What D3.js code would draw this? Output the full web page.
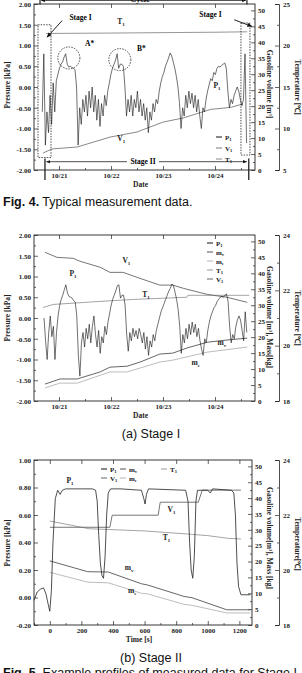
<!DOCTYPE html>
<html>
<head>
<meta charset="utf-8">
<script src="https://cdn.jsdelivr.net/npm/d3@7"></script>
<style>
body { margin: 0; background: #fff; }
svg { display: block; }
.tick text { font-family: "Liberation Serif", "Times New Roman", serif; font-weight: bold; font-size: 7px; fill: #222; }
</style>
</head>
<body>
<svg id="fig" width="302" height="673"></svg>
<script>
// ---- Fig. 4 data (x in days, 1 = 10/21) ----
var dateLabels = ["10/21", "10/22", "10/23", "10/24"];
var fig4PStart = 0.678, fig4PStep = 0.03;
var fig4P = [-0.6, 0.80, -1.40, -0.60, -1.10, -0.20, -0.90, 0.10, -0.60, 0.15,
  0.30, 0.45, 0.55, 0.60, 0.72, 0.80, 0.55, 0.48, 0.50, 0.47,
  0.45, 0.42, 0.00, -1.40, -0.50, -0.90, -0.30, -0.60, -0.20, -0.70,
  -0.10, -0.50, 0.00, -0.60, -0.20, -0.80, -0.30, -0.95, -0.40, -0.70,
  -0.20, -0.45, -0.10, 0.10, 0.30, 0.45, 0.55, 0.65, 0.80, 0.45,
  0.55, 0.55, 0.50, 0.00, -0.70, -0.30, -0.60, -0.20, -0.70, -0.30,
  -0.50, -0.10, -0.60, -0.30, -0.70, -0.40, -0.80, -0.50, -1.10, -0.60,
  -0.80, -0.40, -0.60, -0.30, -0.40, -0.10, 0.10, 0.25, 0.35, 0.50,
  0.60, 0.70, 0.82, 0.75, 0.60, 0.45, 0.25, 0.00, -0.40, -1.00,
  -0.50, -0.70, -0.20, -0.50, -0.10, -0.40, -0.15, -0.50, -0.20, -0.60,
  -0.30, -0.70, -1.00, -0.50, -0.60, -0.30, -0.10, 0.05, 0.20, 0.15,
  0.35, 0.30, 0.45, 0.50, 0.48, 0.52, 0.55, 0.58, 0.45, -0.10,
  -0.50, -0.30, -0.40, -0.20, -0.10, 0.00, -0.10, -0.30, -0.45, -0.30,
  0.80, -1.35];
var fig4V = [[0.69, 5.3], [0.87, 6.6], [1.35, 7.2], [1.98, 10.3], [2.5, 11.9], [3.0, 15.0],
  [3.39, 16.3], [3.92, 19.0], [4.3, 19.6], [4.54, 20.7]];
var fig4T = [[0.75, 21.45], [2.0, 21.5], [3.0, 21.55], [4.0, 21.6], [4.62, 21.65]];

// ---- Fig. 5(a) Stage I data ----
var stage1PStart = 0.712, stage1PStep = 0.03;
var stage1P = [0.00, -0.55, -1.00, -0.35, 0.05, -0.45, -0.20, -1.00, -0.35, 0.05,
  0.30, 0.45, 0.55, 0.68, 0.80, 0.60, 0.52, 0.50, 0.48, 0.42,
  0.38, 0.05, -0.90, -1.40, -0.60, -0.35, -0.70, -0.25, -0.50, -0.15,
  -0.60, -0.20, 0.05, -0.40, -0.70, -0.30, -0.85, -0.45, -0.60, -0.20,
  -0.40, -0.10, 0.10, 0.30, 0.45, 0.55, 0.65, 0.78, 0.80, 0.48,
  0.55, 0.55, 0.30, -0.40, -0.80, -0.35, -0.55, -0.25, -0.45, -0.30,
  -0.50, -0.25, -0.40, -0.60, -0.35, -0.75, -0.45, -0.90, -0.55, -0.70,
  -0.40, -0.55, -0.30, -0.15, 0.00, 0.15, 0.25, 0.35, 0.45, 0.55,
  0.65, 0.72, 0.82, 0.78, 0.62, 0.45, 0.20, -0.20, -0.85, -0.40,
  -0.60, -0.25, -0.50, -0.15, -0.40, -0.10, -0.35, -0.15, -0.45, -0.25,
  -0.55, -0.75, -0.90, -0.50, -0.60, -0.30, -0.10, 0.05, 0.15, 0.25,
  0.30, 0.40, 0.45, 0.50, 0.52, 0.50, 0.55, 0.58, 0.40, -0.20,
  -0.60, -0.40, -0.50, -0.20, -0.05, 0.05, -0.05, -0.30, -0.55, 0.15, -0.35];
var stage1V = [[0.73, 46.6], [0.96, 45.0], [1.27, 44.7], [1.40, 43.8], [1.79, 41.9], [1.98, 40.3],
  [2.23, 40.3], [2.56, 38.4], [2.94, 36.3], [3.19, 36.3], [3.39, 35.3], [3.85, 33.4],
  [4.23, 32.5], [4.62, 30.9]];
var stage1T = [[0.69, 21.38], [0.89, 21.49], [1.79, 21.60], [2.42, 21.67], [3.46, 21.75],
  [3.48, 21.82], [4.66, 21.82]];
var stage1Mv = [[0.73, 5.3], [1.02, 6.9], [1.35, 6.9], [1.79, 9.1], [1.98, 10.6], [2.31, 10.9],
  [2.56, 12.2], [2.94, 14.7], [3.19, 15.0], [3.46, 16.6], [3.85, 18.4], [4.23, 19.1], [4.62, 19.7]];
var stage1Me = [[0.73, 4.1], [1.02, 5.6], [1.35, 5.6], [1.98, 9.1], [2.31, 9.1], [2.94, 12.2],
  [3.19, 12.8], [3.85, 15.3], [4.62, 16.9]];

// ---- Fig. 5(b) Stage II data (x in seconds) ----
var stage2P = [[-100, -0.02], [-80, 0.04], [-60, 0.06], [-40, 0.07], [-25, 0.03], [-10, -0.05],
  [0, -0.10], [10, 0.05], [20, 0.40], [35, 0.72], [50, 0.78], [65, 0.75], [80, 0.78],
  [100, 0.79], [200, 0.79], [270, 0.79], [290, 0.78], [300, 0.70], [310, 0.45], [320, 0.25],
  [330, 0.16], [340, 0.14], [350, 0.30], [360, 0.60], [370, 0.76], [385, 0.79], [450, 0.79],
  [580, 0.78], [595, 0.72], [603, 0.68], [612, 0.75], [625, 0.79], [860, 0.78], [875, 0.70],
  [885, 0.40], [895, 0.20], [905, 0.14], [915, 0.30], [925, 0.70], [935, 0.78], [1000, 0.78],
  [1016, 0.76], [1030, 0.79], [1150, 0.78], [1165, 0.76], [1175, 0.60], [1185, 0.25],
  [1195, 0.08], [1210, 0.02], [1270, 0.02]];
var stage2V = [[0, 30.8], [380, 30.8], [395, 34.6], [686, 34.6], [699, 38.7], [940, 38.7],
  [965, 42.5], [1210, 42.5]];
var stage2T = [[0, 21.78], [250, 21.50], [600, 21.42], [870, 21.31], [1000, 21.25],
  [1130, 21.15], [1210, 21.13]];
var stage2Mv = [[0, 20.2], [240, 16.8], [370, 16.7], [580, 13.0], [620, 12.6], [850, 9.0],
  [900, 8.6], [1120, 4.8], [1270, 4.8]];
var stage2Me = [[0, 16.6], [240, 13.5], [370, 13.3], [580, 10.0], [620, 9.8], [850, 6.5],
  [900, 6.2], [1120, 3.8], [1270, 3.8]];

var serif = '"Liberation Serif","Times New Roman",serif';
var sans = '"Liberation Sans",Arial,sans-serif';
var cP = "#111", cV = "#666", cT = "#9a9a9a", cMv = "#555", cMe = "#b4b4b4";

var svg = d3.select("#fig");
svg.append("defs").append("marker")
    .attr("id", "arr").attr("viewBox", "0 0 10 10")
    .attr("refX", 9).attr("refY", 5)
    .attr("markerWidth", 5).attr("markerHeight", 5)
    .attr("orient", "auto-start-reverse")
    .append("path").attr("d", "M0,1L10,5L0,9Z").attr("fill", "#111");

function fixed2(d) { return d.toFixed(2); }

// label with subscript: "P" + "1"
function subLabel(g, x, y, base, s, size, anchor) {
    var t = g.append("text").attr("x", x).attr("y", y)
        .attr("font-family", serif).attr("font-weight", "bold")
        .attr("font-size", size).attr("fill", "#222")
        .attr("text-anchor", anchor || "start")
        .text(base);
    t.append("tspan").attr("font-size", size * 0.65).attr("dy", size * 0.25).text(s);
    return t;
}

function panel(o) {
    var g = svg.append("g");
    var x = d3.scaleLinear().domain(o.xDomain).range([o.left, o.right]);
    var yP = d3.scaleLinear().domain(o.pDomain).range([o.bottom, o.top]);
    var yV = d3.scaleLinear().domain([0, 52]).range([o.bottom, o.top]);
    var yT = d3.scaleLinear().domain(o.tDomain).range([o.bottom, o.top]);

    // left pressure axis
    g.append("g").attr("transform", "translate(" + o.left + ",0)")
        .call(d3.axisLeft(yP).tickValues(o.pTicks).tickFormat(fixed2).tickSize(-4).tickPadding(3))
        .call(function(a) { a.select(".domain").remove(); });
    g.append("g").attr("transform", "translate(" + o.left + ",0)")
        .call(d3.axisLeft(yP).tickValues(o.pMinor).tickFormat("").tickSize(-2))
        .call(function(a) { a.select(".domain").remove(); });

    // bottom + top axis
    g.append("g").attr("transform", "translate(0," + o.bottom + ")")
        .call(d3.axisBottom(x).tickValues(o.xTicks).tickFormat(o.xFormat).tickSize(-4).tickPadding(3))
        .call(function(a) { a.select(".domain").remove(); });
    g.append("g").attr("transform", "translate(0," + o.bottom + ")")
        .call(d3.axisBottom(x).tickValues(o.xMinor).tickFormat("").tickSize(-2))
        .call(function(a) { a.select(".domain").remove(); });
    g.append("g").attr("transform", "translate(0," + o.top + ")")
        .call(d3.axisTop(x).tickValues(o.xTicks).tickFormat("").tickSize(-4))
        .call(function(a) { a.select(".domain").remove(); });

    // right volume axis
    g.append("g").attr("transform", "translate(" + o.right + ",0)")
        .call(d3.axisRight(yV).tickValues(d3.range(0, 51, 5)).tickSize(-4).tickPadding(3))
        .call(function(a) { a.select(".domain").remove(); });
    g.append("g").attr("transform", "translate(" + o.right + ",0)")
        .call(d3.axisRight(yV).tickValues(d3.range(2.5, 51, 5)).tickFormat("").tickSize(-2))
        .call(function(a) { a.select(".domain").remove(); });

    // separate temperature axis
    g.append("g").attr("transform", "translate(279,0)")
        .call(d3.axisRight(yT).tickValues(o.tTicks).tickFormat(d3.format("d"))
            .tickSizeInner(-4).tickSizeOuter(-4).tickPadding(4))
        .call(function(a) { a.select(".domain").attr("stroke", "#222").attr("stroke-width", 0.8); });
    g.append("g").attr("transform", "translate(279,0)")
        .call(d3.axisRight(yT).tickValues(o.tMinor).tickFormat("").tickSize(-2))
        .call(function(a) { a.select(".domain").remove(); });

    g.selectAll(".tick line").attr("stroke", "#222").attr("stroke-width", 0.7);

    // frame
    g.append("rect").attr("x", o.left).attr("y", o.top)
        .attr("width", o.right - o.left).attr("height", o.bottom - o.top)
        .attr("fill", "none").attr("stroke", "#222").attr("stroke-width", 0.9);

    // axis titles
    function title(tx, ty, rot, txt) {
        g.append("text").attr("transform", "translate(" + tx + "," + ty + ") rotate(" + rot + ")")
            .attr("text-anchor", "middle").attr("font-family", serif).attr("font-weight", "bold")
            .attr("font-size", 7.5).attr("fill", "#222").text(txt);
    }
    title(10, o.pMid, -90, "Pressure [kPa]");
    title(267, o.vMid, 90, o.vTitle);
    title(295, o.tMid, 90, o.tTitle);
    g.append("text").attr("x", (o.left + o.right) / 2 - 4).attr("y", o.bottom + 17)
        .attr("text-anchor", "middle").attr("font-family", serif).attr("font-weight", "bold")
        .attr("font-size", 7.5).attr("fill", "#222").text(o.xTitle);

    return { g: g, x: x, yP: yP, yV: yV, yT: yT };
}

function drawLine(p, data, xAcc, yScale, yAcc, color, width) {
    p.g.append("path").datum(data)
        .attr("fill", "none").attr("stroke", color).attr("stroke-width", width)
        .attr("stroke-linejoin", "round")
        .attr("d", d3.line().x(function(d, i) { return p.x(xAcc(d, i)); })
            .y(function(d) { return yScale(yAcc(d)); }));
}

function first(d) { return d[0]; }
function second(d) { return d[1]; }
function self(d) { return d; }

// ================= Fig. 4 =================
var p1 = panel({
    left: 34, right: 255, top: 4, bottom: 170,
    xDomain: [0.519, 4.77], pDomain: [-2, 2], tDomain: [5, 25],
    pTicks: d3.range(-2, 2.01, 0.5), pMinor: d3.range(-1.75, 2, 0.5),
    xTicks: [1, 2, 3, 4], xMinor: [1.5, 2.5, 3.5, 4.5],
    xFormat: function(d) { return dateLabels[d - 1]; },
    tTicks: [5, 10, 15, 20, 25], tMinor: [7.5, 12.5, 17.5, 22.5],
    pMid: 85, vMid: 84, tMid: 87, xTitle: "Date",
    vTitle: "Gasoline volume [m³]", tTitle: "Temperature [℃]"
});
drawLine(p1, fig4T, first, p1.yT, second, "#8a8a8a", 0.9);
drawLine(p1, fig4V, first, p1.yV, second, "#7a7a7a", 0.9);
drawLine(p1, fig4P, function(d, i) { return fig4PStart + i * fig4PStep; }, p1.yP, self, cP, 0.6);

// stage boxes, arrows
var ann1 = p1.g.append("g").attr("fill", "none").attr("stroke", "#222").attr("stroke-width", 0.8);
[[0.596, 0.846, 1.50, -1.70], [4.50, 4.673, 1.54, -1.64]].forEach(function(b) {
    ann1.append("rect").attr("x", p1.x(b[0])).attr("y", p1.yP(b[2]))
        .attr("width", p1.x(b[1]) - p1.x(b[0])).attr("height", p1.yP(b[3]) - p1.yP(b[2]))
        .attr("stroke-dasharray", "1.5,1.2");
});
// A*, B* circles around the two peaks
[[1.19, 0.70], [2.17, 0.66]].forEach(function(c) {
    ann1.append("circle").attr("cx", p1.x(c[0])).attr("cy", p1.yP(c[1])).attr("r", 11)
        .attr("stroke-dasharray", "1.5,1.2");
});
// cycle bars and arrow
[0.635, 4.615].forEach(function(d) {
    ann1.append("line").attr("x1", p1.x(d)).attr("x2", p1.x(d))
        .attr("y1", p1.yP(2.1)).attr("y2", p1.yP(1.99)).attr("stroke-width", 1.2);
});
ann1.append("line").attr("x1", p1.x(0.66)).attr("x2", p1.x(4.59))
    .attr("y1", p1.yP(2.085)).attr("y2", p1.yP(2.085))
    .attr("marker-start", "url(#arr)").attr("marker-end", "url(#arr)");
p1.g.append("text").attr("x", 140).attr("y", p1.yP(2.045)).attr("text-anchor", "middle")
    .attr("font-family", serif).attr("font-weight", "bold").attr("font-size", 8).text("Cycle");
// stage II bars and arrow
[0.73, 4.65].forEach(function(d) {
    ann1.append("line").attr("x1", p1.x(d)).attr("x2", p1.x(d))
        .attr("y1", p1.yP(-1.72)).attr("y2", p1.yP(-2.24)).attr("stroke-width", 1.3);
});
ann1.append("line").attr("x1", p1.x(0.76)).attr("x2", p1.x(4.61))
    .attr("y1", p1.yP(-1.8)).attr("y2", p1.yP(-1.8))
    .attr("marker-start", "url(#arr)").attr("marker-end", "url(#arr)");
p1.g.append("rect").attr("x", 127).attr("y", p1.yP(-1.8) - 4).attr("width", 32).attr("height", 8).attr("fill", "#fff");
p1.g.append("text").attr("x", 143).attr("y", p1.yP(-1.8) + 2.5).attr("text-anchor", "middle")
    .attr("font-family", serif).attr("font-weight", "bold").attr("font-size", 7.5).text("Stage II");
// stage I callouts
ann1.append("line").attr("x1", p1.x(1.06)).attr("y1", p1.yP(1.6))
    .attr("x2", p1.x(0.77)).attr("y2", p1.yP(1.2)).attr("marker-end", "url(#arr)").attr("stroke-width", 1);
ann1.append("line").attr("x1", p1.x(4.37)).attr("y1", p1.yP(1.62))
    .attr("x2", p1.x(4.71)).attr("y2", p1.yP(1.46)).attr("marker-end", "url(#arr)").attr("stroke-width", 1);
p1.g.append("text").attr("x", p1.x(1.2)).attr("y", p1.yP(1.62))
    .attr("font-family", serif).attr("font-weight", "bold").attr("font-size", 7.5).text("Stage I");
p1.g.append("text").attr("x", p1.x(3.7)).attr("y", p1.yP(1.68))
    .attr("font-family", serif).attr("font-weight", "bold").attr("font-size", 7.5).text("Stage I");
subLabel(p1.g, p1.x(2.12), p1.yP(1.52), "T", "1", 7.5);
subLabel(p1.g, p1.x(2.12), p1.yP(-1.3), "V", "1", 7.5);
subLabel(p1.g, p1.x(3.97), p1.yP(-0.02), "P", "1", 7.5);
p1.g.append("text").attr("x", p1.x(1.5)).attr("y", p1.yP(0.98))
    .attr("font-family", serif).attr("font-weight", "bold").attr("font-size", 7.5).text("A*");
p1.g.append("text").attr("x", p1.x(2.5)).attr("y", p1.yP(0.86))
    .attr("font-family", serif).attr("font-weight", "bold").attr("font-size", 7.5).text("B*");
// legend
var leg1 = [["P", "1", cP], ["V", "1", "#7a7a7a"], ["T", "1", "#8a8a8a"]];
leg1.forEach(function(l, i) {
    var ly = [137, 148, 159][i];
    p1.g.append("line").attr("x1", 216).attr("x2", 222).attr("y1", ly).attr("y2", ly)
        .attr("stroke", l[2]).attr("stroke-width", 1);
    subLabel(p1.g, 225, ly + 2.5, l[0], l[1], 7);
});

svg.append("text").attr("x", 3).attr("y", 206).attr("font-family", sans).attr("font-size", 12.5).attr("fill", "#111")
    .call(function(t) {
        t.append("tspan").attr("font-weight", "bold").text("Fig. 4.");
        t.append("tspan").text(" Typical measurement data.");
    });

// ================= Fig. 5(a) =================
var p2 = panel({
    left: 34, right: 255, top: 235, bottom: 401,
    xDomain: [0.519, 4.77], pDomain: [-2, 2], tDomain: [18, 24],
    pTicks: d3.range(-2, 2.01, 0.5), pMinor: d3.range(-1.75, 2, 0.5),
    xTicks: [1, 2, 3, 4], xMinor: [1.5, 2.5, 3.5, 4.5],
    xFormat: function(d) { return dateLabels[d - 1]; },
    tTicks: [18, 20, 22, 24], tMinor: [19, 21, 23],
    pMid: 318, vMid: 317, tMid: 318, xTitle: "Date",
    vTitle: "Gasoline volume [m³], Mass[kg]", tTitle: "Temperature [℃]"
});
drawLine(p2, stage1Me, first, p2.yV, second, cMe, 0.9);
drawLine(p2, stage1Mv, first, p2.yV, second, cMv, 0.9);
drawLine(p2, stage1T, first, p2.yT, second, cT, 0.9);
drawLine(p2, stage1V, first, p2.yV, second, cV, 0.9);
drawLine(p2, stage1P, function(d, i) { return stage1PStart + i * stage1PStep; }, p2.yP, self, cP, 0.6);
subLabel(p2.g, p2.x(1.2), p2.yP(1.02), "P", "1", 7.5);
subLabel(p2.g, p2.x(2.22), p2.yP(1.33), "V", "1", 7.5);
subLabel(p2.g, p2.x(2.6), p2.yP(0.5), "T", "1", 7.5);
subLabel(p2.g, p2.x(4.05), p2.yP(-0.66), "m", "v", 7.5);
subLabel(p2.g, p2.x(3.55), p2.yP(-1.14), "m", "e", 7.5);
var leg2 = [["P", "1", cP], ["m", "v", cMv], ["m", "e", cMe], ["T", "1", cT], ["V", "1", cV]];
leg2.forEach(function(l, i) {
    var ly = 243 + i * 9;
    p2.g.append("line").attr("x1", 207).attr("x2", 213).attr("y1", ly).attr("y2", ly)
        .attr("stroke", l[2]).attr("stroke-width", 1);
    subLabel(p2.g, 216, ly + 2.5, l[0], l[1], 7);
});
svg.append("text").attr("x", 151).attr("y", 438).attr("text-anchor", "middle")
    .attr("font-family", sans).attr("font-size", 12.5).attr("fill", "#111").text("(a) Stage I");

// ================= Fig. 5(b) =================
var p3 = panel({
    left: 34, right: 252, top: 460, bottom: 625,
    xDomain: [-100, 1280], pDomain: [-0.2, 1.0], tDomain: [18, 24],
    pTicks: d3.range(-0.2, 1.01, 0.2), pMinor: d3.range(-0.1, 1.0, 0.2),
    xTicks: d3.range(0, 1201, 200), xMinor: d3.range(-100, 1280, 200),
    xFormat: d3.format("d"),
    tTicks: [18, 20, 22, 24], tMinor: [19, 21, 23],
    pMid: 543, vMid: 538, tMid: 544, xTitle: "Time [s]",
    vTitle: "Gasoline volume[m³], Mass [kg]", tTitle: "Temperature[℃]"
});
drawLine(p3, stage2Me, first, p3.yV, second, cMe, 0.9);
drawLine(p3, stage2Mv, first, p3.yV, second, cMv, 0.9);
drawLine(p3, stage2T, first, p3.yT, second, cT, 0.9);
drawLine(p3, stage2V, first, p3.yV, second, cV, 0.9);
drawLine(p3, stage2P, first, p3.yP, second, "#222", 0.8);
subLabel(p3.g, p3.x(105), p3.yP(0.83), "P", "1", 7.5);
subLabel(p3.g, p3.x(745), p3.yP(0.62), "V", "1", 7.5);
subLabel(p3.g, p3.x(715), p3.yP(0.42), "T", "1", 7.5);
subLabel(p3.g, p3.x(475), p3.yP(0.2), "m", "v", 7.5);
subLabel(p3.g, p3.x(495), p3.yP(0.03), "m", "e", 7.5);
var leg3 = [["P", "1", cP, 101, 469], ["m", "v", cMv, 120, 469], ["T", "1", cT, 161, 469],
    ["V", "1", cV, 101, 478], ["m", "e", cMe, 120, 478]];
leg3.forEach(function(l) {
    p3.g.append("line").attr("x1", l[3]).attr("x2", l[3] + 6).attr("y1", l[4]).attr("y2", l[4])
        .attr("stroke", l[2]).attr("stroke-width", 1);
    subLabel(p3.g, l[3] + 9, l[4] + 2.5, l[0], l[1], 7);
});
svg.append("text").attr("x", 151).attr("y", 662).attr("text-anchor", "middle")
    .attr("font-family", sans).attr("font-size", 12.5).attr("fill", "#111").text("(b) Stage II");
svg.append("text").attr("x", 3).attr("y", 677).attr("font-family", sans).attr("font-size", 12.5).attr("fill", "#111")
    .call(function(t) {
        t.append("tspan").attr("font-weight", "bold").text("Fig. 5.");
        t.append("tspan").text(" Example profiles of measured data for Stage I");
    });
</script>
</body>
</html>
